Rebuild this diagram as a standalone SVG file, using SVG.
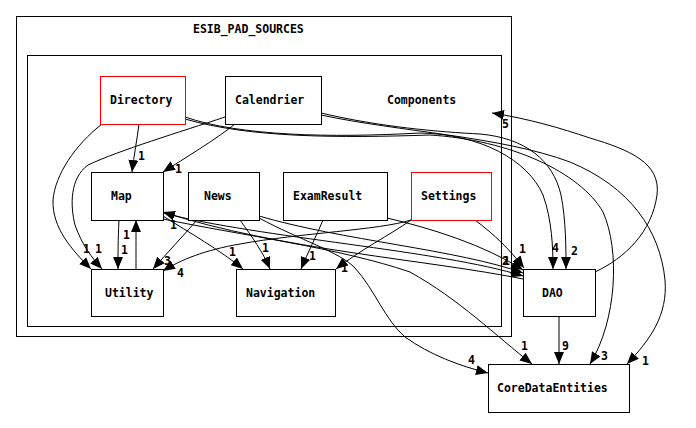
<svg xmlns="http://www.w3.org/2000/svg" width="696" height="428" viewBox="0 0 696 428">
<style>
text{font-family:"DejaVu Sans Mono","Liberation Mono",monospace;font-weight:bold;font-size:11.5px;fill:#000}
.cl{fill:none;stroke:#000;stroke-width:1}
.n{fill:#fff;stroke:#000;stroke-width:1}
.r{fill:#fff;stroke:#f00;stroke-width:1}
.e{fill:none;stroke:#000;stroke-width:1;marker-end:url(#ah)}
</style>
<defs>
<marker id="ah" viewBox="0 0 12 10" refX="12" refY="5" markerWidth="12" markerHeight="10" markerUnits="userSpaceOnUse" orient="auto"><path d="M0,0 L12,5 L0,10 z" fill="#000"/></marker>
</defs>
<rect width="696" height="428" fill="#fff"/>
<g id="cluster_ESIB_PAD_SOURCES">
<rect class="cl" x="16.5" y="16.5" width="495" height="320"/>
<text x="193" y="33">ESIB_PAD_SOURCES</text>
</g>
<g id="cluster_Components">
<rect class="cl" x="27.5" y="55.5" width="474" height="271"/>
<text x="387" y="104">Components</text>
</g>
<g id="edges">
<path class="e" d="M139,124 C137,140 134,155 132,172"/>
<text x="138" y="160">1</text>
<path class="e" d="M102,124 C75,145 55,175 53,200 C52,228 72,250 91,269"/>
<text x="83" y="253">1</text>
<path class="e" d="M225,117 C180,132 120,150 88,165 C70,178 70,205 75,225 C82,245 92,258 102,269"/>
<text x="95" y="253">1</text>
<path class="e" d="M235,124 C215,140 185,158 163,172"/>
<text x="175" y="173">1</text>
<path class="e" d="M119,220 C118,240 118,255 118,269"/>
<text x="121" y="254">1</text>
<path class="e" d="M136,269 C136,255 136,240 136,220"/>
<text x="123" y="239">1</text>
<path class="e" d="M197,220 C183,236 168,252 153,269"/>
<text x="164" y="265">3</text>
<path class="e" d="M411,220 C380,230 300,233 240,244 C205,250 180,260 163,271"/>
<text x="177" y="277">4</text>
<path class="e" d="M163,216 C190,233 220,250 243,269"/>
<text x="229" y="256">1</text>
<path class="e" d="M240,220 C252,237 263,252 270,269"/>
<text x="262" y="252">1</text>
<path class="e" d="M323,220 C316,237 308,252 301,269"/>
<text x="309" y="260">1</text>
<path class="e" d="M411,220 C390,235 360,250 336,269"/>
<text x="341" y="272">1</text>
<path class="e" d="M387,218 C430,228 485,245 523,270"/>
<text x="503" y="265">1</text>
<path class="e" d="M259,216 C340,240 460,250 523,273"/>
<path class="e" d="M163,213 C260,238 440,250 523,276"/>
<text x="502" y="265">2</text>
<path class="e" d="M523,279 C430,260 280,250 163,212"/>
<text x="170" y="229">1</text>
<path class="e" d="M475,220 C495,235 510,250 524,268"/>
<text x="519" y="253">1</text>
<path class="e" d="M185,117 C240,136 330,138 420,133 C480,134 528,160 543,195 C552,220 553,248 553,269"/>
<text x="552" y="252">4</text>
<path class="e" d="M321,113 C380,127 440,132 480,134 C525,138 553,160 561,195 C566,220 566,250 566,269"/>
<text x="571" y="255">2</text>
<path class="e" d="M185,119 C250,138 340,138 430,135 C510,140 580,172 603,212 C620,250 617,320 590,364"/>
<text x="601" y="360">3</text>
<path class="e" d="M321,115 C400,132 500,136 570,162 C630,187 660,230 665,280 C668,315 650,340 627,364"/>
<text x="642" y="365">1</text>
<path class="e" d="M595,272 C625,258 652,232 657,195 C661,163 630,150 590,138 C560,128 530,119 492,113"/>
<text x="502" y="128">5</text>
<path class="e" d="M559,316 L559,364"/>
<text x="562" y="350">9</text>
<path class="e" d="M163,219 C240,235 340,248 410,272 C460,300 495,335 532,364"/>
<text x="521" y="350">1</text>
<path class="e" d="M259,218 C300,240 340,252 355,268 C375,290 385,320 405,337 C430,355 460,366 488,373"/>
<text x="468" y="364">4</text>
</g>
<g id="Directory"><rect class="r" x="100.5" y="76.5" width="85" height="48"/><text x="110" y="104">Directory</text></g>
<g id="Calendrier"><rect class="n" x="225.5" y="76.5" width="96" height="48"/><text x="235" y="104">Calendrier</text></g>
<g id="Map"><rect class="n" x="91.5" y="172.5" width="72" height="48"/><text x="111" y="200">Map</text></g>
<g id="News"><rect class="n" x="188.5" y="172.5" width="71" height="48"/><text x="204" y="200">News</text></g>
<g id="ExamResult"><rect class="n" x="283.5" y="172.5" width="104" height="48"/><text x="293" y="200">ExamResult</text></g>
<g id="Settings"><rect class="r" x="411.5" y="172.5" width="80" height="48"/><text x="421" y="200">Settings</text></g>
<g id="Utility"><rect class="n" x="91.5" y="269.5" width="72" height="47"/><text x="105" y="297">Utility</text></g>
<g id="Navigation"><rect class="n" x="236.5" y="269.5" width="99" height="47"/><text x="246" y="297">Navigation</text></g>
<g id="DAO"><rect class="n" x="523.5" y="269.5" width="72" height="47"/><text x="542" y="297">DAO</text></g>
<g id="CoreDataEntities"><rect class="n" x="488.5" y="364.5" width="141" height="48"/><text x="497" y="392">CoreDataEntities</text></g>
</svg>
